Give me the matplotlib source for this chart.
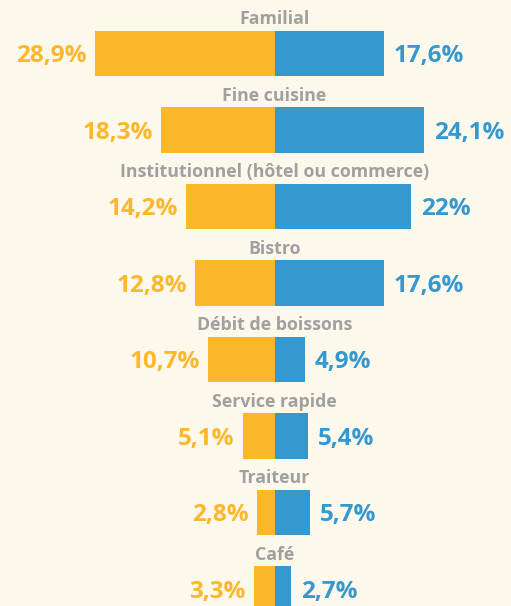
import matplotlib.pyplot as plt

categories = ['Familial', 'Fine cuisine', 'Institutionnel (hôtel ou commerce)',
              'Bistro', 'Débit de boissons', 'Service rapide', 'Traiteur', 'Café']
left_vals = [28.9, 18.3, 14.2, 12.8, 10.7, 5.1, 2.8, 3.3]
right_vals = [17.6, 24.1, 22.0, 17.6, 4.9, 5.4, 5.7, 2.7]

bg = '#FDF8EC'
orange = '#FDB72A'
blue = '#3598CF'
grey = '#A0A0A0'

plt.rcParams['font.family'] = ['Open Sans', 'DejaVu Sans']


def fmt(v):
    return ('%g' % v).replace('.', ',') + '%'


fig = plt.figure(figsize=(5.11, 6.06), dpi=100, facecolor=bg)
ax = fig.add_axes([0, 0, 1, 1])
ax.set_facecolor(bg)

pitch = 76.5
ys = list(range(len(categories)))
ax.barh(ys, [-v for v in left_vals], height=0.59, color=orange, linewidth=0)
ax.barh(ys, right_vals, height=0.59, color=blue, linewidth=0)

for y, cat, lv, rv in zip(ys, categories, left_vals, right_vals):
    ax.text(0, y - 0.45, cat, ha='center', va='center', fontsize=12.8,
            fontweight='bold', color=grey)
    ax.annotate(fmt(lv), (-lv, y), xytext=(-6, -2), textcoords='offset points',
                ha='right', va='center', fontsize=17.5, fontweight='bold', color=orange)
    ax.annotate(fmt(rv), (rv, y), xytext=(7, -2), textcoords='offset points',
                ha='left', va='center', fontsize=17.5, fontweight='bold', color=blue)

scale = 6.2
ax.set_xlim(-274.5 / scale, (511 - 274.5) / scale)
ax.set_ylim((606 - 53.5) / pitch, -53.5 / pitch)
ax.axis('off')

fig.savefig('out.png', dpi=100, facecolor=bg)
